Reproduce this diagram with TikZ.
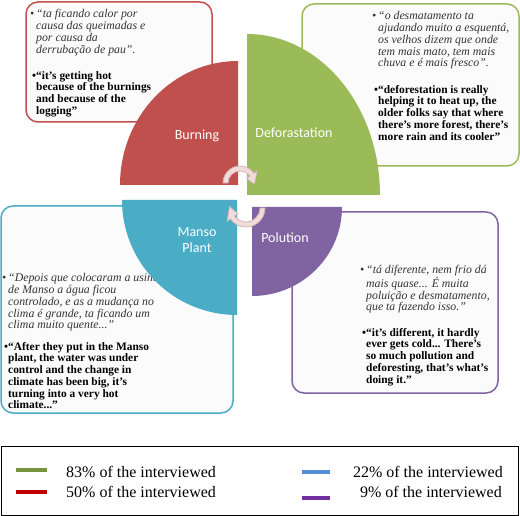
\documentclass[tikz,border=0pt]{standalone}
\usepackage{fontspec}
\setmainfont{Liberation Serif}
\newfontfamily\quadfont{Carlito}
\usetikzlibrary{calc}
\definecolor{burnred}{HTML}{C0504D}
\definecolor{forestgreen}{HTML}{9BBB59}
\definecolor{mansoblue}{HTML}{4BACC6}
\definecolor{polpurple}{HTML}{8064A2}
\definecolor{arrowpink}{HTML}{F2DCDB}
\definecolor{arrowedge}{HTML}{D3B5B4}
\definecolor{keygreen}{HTML}{77933C}
\definecolor{keyred}{HTML}{C00000}
\definecolor{keyblue}{HTML}{558ED5}
\definecolor{keypurple}{HTML}{7030A0}

\begin{document}
\begin{tikzpicture}[
  x=1pt,y=-1pt,
  quotebox/.style={rounded corners=12pt,fill=gray!3,line width=1.5pt},
  quadlabel/.style={text=white,font=\quadfont\fontsize{14}{16}\selectfont,align=center,inner sep=0pt},
  ptline/.style={anchor=north west,inner sep=0pt,align=left,font=\itshape\fontsize{11.8}{11.9}\selectfont,text=black!80},
  enline/.style={anchor=north west,inner sep=0pt,align=left,font=\bfseries\fontsize{11.4}{11.7}\selectfont},
  turn/.style={fill=arrowpink,draw=arrowedge,line width=0.8pt},
  keybar/.style={line width=4pt},
  keytext/.style={font=\fontsize{16}{18}\selectfont,inner sep=0pt}
]
\useasboundingbox (0,0) rectangle (520,516);

\draw[quotebox,draw=burnred] (26,2) rectangle (212,122);
\draw[quotebox,draw=forestgreen] (302,4) rectangle (519,166);
\draw[quotebox,draw=mansoblue] (1,206) rectangle (233,413);
\draw[quotebox,draw=polpurple] (292,212) rectangle (498,393);

\node[ptline] (burnpt) at (36,9) {\llap{•\,}“ta ficando calor por\\causa das queimadas e\\por causa da\\derrubação de pau”.};
\node[enline] (burnen) at (36,71) {\llap{•}“it’s getting hot\\because of the burnings\\and because of the\\logging”};
\node[ptline] (forestpt) at (378,11) {\llap{•\,}“o desmatamento ta\\ajudando muito a esquentá,\\os velhos dizem que onde\\tem mais mato, tem mais\\chuva e é mais fresco”.};
\node[enline] (foresten) at (378,85) {\llap{•}“deforestation is really\\helping it to heat up, the\\older folks say that where\\there’s more forest, there’s\\more rain and its cooler”};
\node[ptline] (mansopt) at (8,273) {\llap{•\,}“Depois que colocaram a usina\\de Manso a água ficou\\controlado, e as a mudança no\\clima é grande, ta ficando um\\clima muito quente...”};
\node[enline] (mansoen) at (8,342) {\llap{•}“After they put in the Manso\\plant, the water was under\\control and the change in\\climate has been big, it’s\\turning into a very hot\\climate...”};
\node[ptline] (polpt) at (366,265) {\llap{•\,}“tá diferente, nem frio dá\\mais quase... É muita\\poluição e desmatamento,\\que ta fazendo isso.”};
\node[enline] (polen) at (366,328) {\llap{•}“it’s different, it hardly\\ever gets cold... There’s\\so much pollution and\\deforesting, that’s what’s\\doing it.”};

\fill[burnred] (238,185) -- (120,185) arc[start angle=180,end angle=270,x radius=118,y radius=124] -- cycle;
\fill[forestgreen] (247,195) -- (247,34) arc[start angle=270,end angle=360,x radius=133,y radius=161] -- cycle;
\fill[mansoblue] (237,200) -- (122,200) arc[start angle=180,end angle=90,radius=115] -- cycle;
\fill[polpurple] (252,207) -- (342,207) arc[start angle=0,end angle=90,x radius=90,y radius=89] -- cycle;

\node[quadlabel] (burning) at (197,136) {Burning};
\node[quadlabel] (deforest) at (294,133) {Deforastation};
\node[quadlabel] (manso) at (197,240) {Manso\\Plant};
\node[quadlabel] (polution) at (285,238) {Polution};

\coordinate (c1) at (240,183);
\coordinate (c2) at (246,208);
\filldraw[turn] ($(c1)+(180:12)$) arc (180:325:12) -- ($(c1)+(325:8)$) -- ($(c1)+(5:14.5)$) -- ($(c1)+(325:21)$) -- ($(c1)+(325:17)$) arc (325:180:17) -- cycle;
\filldraw[turn] ($(c2)+(0:14)$) arc (0:145:14) -- ($(c2)+(145:10)$) -- ($(c2)+(185:16.5)$) -- ($(c2)+(145:23)$) -- ($(c2)+(145:19)$) arc (145:0:19) -- cycle;

\draw[line width=1pt] (1,446) rectangle (518,515);
\node[keytext,anchor=west] (k83) at (66,472) {83\% of the interviewed};
\node[keytext,anchor=west] (k50) at (66,492) {50\% of the interviewed};
\node[keytext,anchor=east] (k22) at (503,472) {22\% of the interviewed};
\node[keytext,anchor=east] (k9) at (502,492) {9\% of the interviewed};
\draw[keybar,keygreen] (16,470) -- (47,470);
\draw[keybar,keyred] (16,492) -- (47,492);
\draw[keybar,keyblue] (302,472) -- (330,472);
\draw[keybar,keypurple] (302,498) -- (330,498);
\end{tikzpicture}
\end{document}
